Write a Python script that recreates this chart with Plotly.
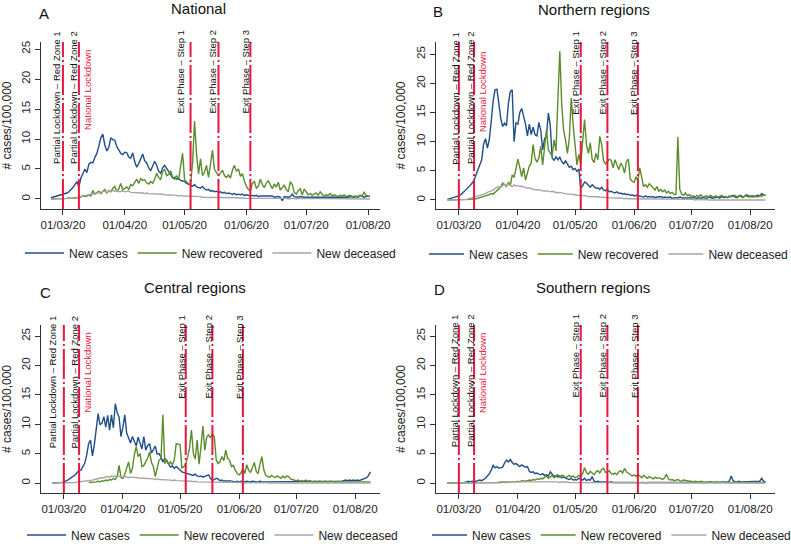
import pandas as pd
import plotly.graph_objects as go

# ---------------------------------------------------------------- data
# Each series is split into monthly chunks; chunk i starts on month_starts[i].
month_starts = ["2020-02-24", "2020-03-01", "2020-04-01", "2020-05-01",
                "2020-06-01", "2020-07-01", "2020-08-01"]

# Panel A - National (24 Feb - 2 Aug 2020)
nat_cases = [
    [0.2, 0.3, 0.3, 0.4, 0.5, 0.6],
    [0.7, 0.8, 1.0, 1.2, 1.5, 1.9, 2.4, 2.9, 2.0, 3.5, 4.2, 5.0, 4.4, 5.8, 6.1, 6.0, 6.9, 7.6, 8.8, 10.2,
     10.8, 9.0, 8.0, 8.6, 10.2, 9.9, 9.8, 8.7, 8.2, 7.6, 7.4],
    [7.8, 7.7, 7.0, 6.8, 7.7, 6.2, 5.3, 5.9, 6.8, 7.5, 6.4, 6.0, 5.2, 4.7, 5.5, 6.3, 5.6, 4.6, 4.3, 5.2,
     5.6, 5.0, 4.6, 4.1, 3.5, 3.6, 3.3, 3.4, 3.1, 3.0],
    [2.9, 2.6, 2.5, 2.3, 2.1, 2.4, 2.0, 1.9, 1.8, 2.1, 1.7, 1.5, 1.6, 1.3, 1.4, 1.2, 1.3, 1.1, 1.2, 1.0,
     1.1, 0.9, 1.0, 0.9, 0.8, 0.9, 0.7, 0.8, 0.7, 0.8, 0.6],
    [0.7, 0.6, 0.5, 0.6, 0.5, 0.6, 0.4, 0.5, 0.5, 0.4, 0.5, 0.4, 0.4, 0.5, 0.3, 0.4, 0.4, 0.3, -0.3, 0.4,
     0.3, 0.3, 0.4, 0.8, 0.4, 0.3, 0.3, 0.4, 0.3, 0.3],
    [0.3, 0.3, 0.2, 0.3, 0.3, 0.2, 0.3, 0.3, 0.2, 0.3, 0.3, 0.3, 0.2, 0.3, 0.3, 0.3, 0.2, 0.3, 0.3, 0.3,
     0.3, 0.3, 0.4, 0.3, 0.3, 0.4, 0.3, 0.6, 0.4, 0.3, 0.4],
    [0.5, 0.4],
]
nat_recovered = [
    [0.0, 0.0, 0.0, 0.1, 0.0, 0.1],
    [0.1, 0.1, 0.1, 0.2, 0.1, 0.2, 0.1, 0.2, 0.2, 0.3, 0.6, 0.4, 0.5, 0.7, 0.5, 1.4, 0.8, 1.1, 1.3, 0.9,
     1.2, 1.6, 1.0, 1.4, 1.2, 1.8, 2.1, 1.3, 1.7, 2.6, 1.5],
    [1.8, 2.0, 1.6, 2.4, 2.2, 2.7, 3.3, 2.6, 3.4, 3.1, 3.2, 2.7, 2.5, 2.9, 2.6, 3.3, 4.3, 3.6, 3.2, 4.6,
     4.9, 3.9, 4.1, 4.7, 3.6, 3.3, 3.9, 3.2, 5.2, 7.6],
    [3.2, 2.8, 2.5, 2.4, 6.0, 13.0, 7.5, 4.2, 6.7, 3.9, 4.5, 5.6, 3.6, 5.8, 8.1, 4.9, 4.4, 3.9, 4.3, 4.8,
     3.9, 3.6, 4.0, 3.5, 4.8, 5.6, 4.6, 5.0, 3.8, 4.2, 3.0],
    [2.1, 1.6, 1.4, 2.6, 2.9, 1.8, 2.1, 3.3, 2.4, 1.9, 2.7, 3.0, 2.2, 1.7, 2.5, 2.0, 2.8, 1.5, 1.9, 2.3,
     1.6, 1.2, 2.9, 2.4, 1.1, 0.8, 1.4, 1.7, 0.7, 1.6],
    [1.2, 0.7, 0.9, 0.6, 0.8, 1.0, 0.6, 1.2, 0.8, 0.5, 0.7, 0.6, 0.9, 0.5, 0.7, 0.6, 0.4, 0.6, 0.5, 0.7,
     0.4, 0.5, 0.6, 0.4, 0.5, 0.5, 0.4, 0.6, 0.5, 1.1, 0.6],
    [0.5, 0.4],
]
nat_deceased = [
    [0.0, 0.0, 0.0, 0.0, 0.0, 0.0],
    [0.0, 0.0, 0.1, 0.1, 0.1, 0.2, 0.2, 0.3, 0.3, 0.4, 0.5, 0.5, 0.6, 0.7, 0.8, 0.8, 0.9, 1.0, 1.1, 1.1,
     1.2, 1.3, 1.2, 1.3, 1.3, 1.4, 1.3, 1.4, 1.2, 1.3, 1.3],
    [1.2, 1.2, 1.3, 1.1, 1.1, 1.0, 1.1, 1.0, 1.0, 1.0, 0.9, 1.0, 0.9, 0.9, 0.8, 0.9, 0.9, 0.8, 0.8, 0.8,
     0.7, 0.7, 0.7, 0.6, 0.7, 0.6, 0.6, 0.5, 0.6, 0.5],
    [0.5, 0.5, 0.4, 0.4, 0.4, 0.5, 0.4, 0.4, 0.4, 0.3, 0.3, 0.3, 0.3, 0.3, 0.3, 0.3, 0.3, 0.2, 0.2, 0.3,
     0.2, 0.2, 0.2, 0.2, 0.2, 0.2, 0.2, 0.2, 0.1, 0.2, 0.1],
    [0.1, 0.2, 0.1, 0.1, 0.1, 0.2, 0.1, 0.1, 0.1, 0.1, 0.1, 0.1, 0.1, 0.1, 0.1, 0.1, 0.1, 0.1, 0.1, 0.1,
     0.1, 0.0, 0.1, 0.1, 0.1, 0.0, 0.1, 0.1, 0.0, 0.1],
    [0.1, 0.0, 0.1, 0.0, 0.1, 0.0, 0.0, 0.1, 0.0, 0.0, 0.1, 0.0, 0.0, 0.0, 0.0, 0.0, 0.0, 0.0, 0.0, 0.0,
     0.0, 0.0, 0.0, 0.0, 0.0, 0.0, 0.0, 0.0, 0.0, 0.0, 0.0],
    [0.0, 0.0],
]

# Panel B - Northern regions (24 Feb - 9 Aug 2020)
north_cases = [
    [0.1, 0.2, 0.2, 0.3, 0.4, 0.5],
    [0.7, 0.9, 1.2, 1.5, 1.8, 2.1, 2.5, 2.9, 3.4, 4.3, 5.2, 6.1, 6.9, 9.6, 10.5, 8.9, 10.4, 13.5, 17.0, 18.9,
     19.0, 16.5, 14.0, 12.6, 13.2, 12.7, 16.5, 18.6, 18.9, 10.0, 13.2],
    [13.0, 15.0, 15.7, 14.3, 13.0, 11.0, 13.0, 11.2, 12.5, 11.2, 11.0, 13.3, 12.0, 8.6, 10.5, 11.0, 14.9, 12.8, 7.2, 6.8,
     7.4, 6.9, 7.3, 6.6, 6.2, 6.7, 6.0, 5.6, 5.8, 5.2],
    [5.4, 4.9, 5.3, 2.0, 2.4, 3.1, 2.9, 2.5, 2.2, 2.6, 2.3, 2.0, 2.1, 1.8, 2.2, 1.7, 1.6, 1.8, 1.4, 1.5,
     1.3, 1.2, 1.4, 1.1, 1.2, 1.0, 1.1, 0.9, 1.0, 0.8, 0.9],
    [0.7, 0.8, 0.6, 0.7, 0.6, 0.5, 0.7, 0.5, 0.6, 0.5, 0.6, 0.4, 0.5, 0.5, 0.6, 0.4, 0.5, 0.4, 0.4, 0.5,
     0.3, 0.4, 0.4, 0.3, 0.5, 0.4, 0.3, 0.4, 0.3, 0.4],
    [0.3, 0.4, 0.3, 0.3, 0.4, 0.3, 0.4, 0.3, 0.3, 0.4, 0.5, 0.3, 0.4, 0.4, 0.5, 0.3, 0.6, 0.4, 0.5, 0.4,
     0.5, 0.6, 0.8, 0.5, 0.4, 0.6, 0.8, 0.5, 0.6, 0.9, 0.7],
    [0.6, 0.7, 0.5, 0.7, 0.8, 0.7, 1.1, 0.9, 0.8],
]
north_recovered = [
    [0.0, 0.0, 0.0, 0.0, 0.0, 0.0],
    [0.0, 0.0, 0.1, 0.0, 0.1, 0.1, 0.1, 0.2, 0.1, 0.2, 0.3, 0.3, 0.4, 0.5, 0.6, 0.8, 0.9, 1.1, 1.0, 1.3,
     1.6, 1.9, 2.2, 2.9, 2.6, 2.3, 3.1, 2.4, 4.3, 3.9, 5.4],
    [7.0, 5.6, 4.0, 5.5, 3.4, 4.6, 5.8, 6.3, 9.5, 7.1, 6.5, 7.2, 9.2, 6.0, 8.6, 12.0, 8.6, 8.0, 7.5, 10.3,
     8.4, 17.2, 25.5, 16.5, 12.0, 10.3, 8.0, 10.5, 17.5, 13.0],
    [9.0, 6.0, 7.8, 6.2, 10.0, 13.8, 9.5, 8.0, 9.8, 7.0, 6.4, 8.0, 6.9, 10.9, 9.5, 6.7, 6.2, 6.5, 7.0, 6.8,
     5.5, 6.9, 6.0, 5.2, 6.3, 5.8, 4.6, 6.6, 7.0, 3.6, 3.2],
    [3.0, 4.0, 3.3, 5.5, 3.8, 2.3, 2.6, 2.2, 2.8, 2.4, 2.0, 1.7, 2.3, 1.5, 1.8, 1.4, 1.7, 1.2, 1.5, 1.1,
     1.3, 0.9, 1.0, 10.8, 1.8, 1.0, 0.8, 1.2, 0.7, 0.9],
    [0.6, 0.7, 0.5, 0.8, 0.6, 0.9, 0.5, 0.6, 0.7, 0.5, 0.8, 0.6, 0.5, 0.7, 0.4, 0.6, 0.8, 0.5, 0.6, 0.4,
     0.7, 0.5, 0.6, 0.8, 0.5, 0.7, 0.6, 0.4, 0.6, 0.7, 0.5],
    [0.6, 0.5, 0.7, 0.6, 0.5, 0.8, 0.6, 0.9, 0.8],
]
north_deceased = [
    [0.0, 0.0, 0.0, 0.0, 0.0, 0.0],
    [0.0, 0.0, 0.1, 0.1, 0.1, 0.2, 0.3, 0.3, 0.4, 0.5, 0.6, 0.7, 0.8, 1.0, 1.1, 1.3, 1.4, 1.6, 1.7, 2.0,
     2.1, 2.3, 2.2, 2.5, 2.7, 2.4, 2.8, 2.5, 2.3, 2.6, 2.4],
    [2.5, 2.3, 2.4, 2.2, 2.2, 2.0, 2.1, 1.9, 1.8, 1.8, 1.7, 1.8, 1.6, 1.6, 1.5, 1.6, 1.5, 1.4, 1.5, 1.4,
     1.3, 1.2, 1.3, 1.2, 1.1, 1.1, 1.0, 1.0, 1.0, 0.9],
    [0.9, 0.8, 0.8, 0.8, 0.7, 0.7, 0.7, 0.6, 0.6, 0.6, 0.5, 0.6, 0.5, 0.5, 0.4, 0.5, 0.4, 0.4, 0.4, 0.3,
     0.3, 0.4, 0.3, 0.3, 0.3, 0.3, 0.2, 0.3, 0.2, 0.2, 0.2],
    [0.2, 0.2, 0.2, 0.1, 0.2, 0.1, 0.2, 0.1, 0.1, 0.2, 0.1, 0.1, 0.1, 0.1, 0.1, 0.1, 0.1, 0.1, 0.1, 0.1,
     0.1, 0.1, 0.1, 0.1, 0.1, 0.1, 0.1, 0.1, 0.1, 0.1],
    [0.1, 0.1, 0.0, 0.1, 0.1, 0.0, 0.1, 0.0, 0.1, 0.0, 0.0, 0.1, 0.0, 0.0, 0.0, 0.1, 0.0, 0.0, 0.0, 0.0,
     0.0, 0.0, 0.0, 0.0, 0.0, 0.0, 0.0, 0.0, 0.0, 0.0, 0.0],
    [0.0, 0.0, 0.0, 0.0, 0.0, 0.0, 0.0, 0.0, 0.0],
]

# Panel C - Central regions (24 Feb - 9 Aug 2020)
central_cases = [
    [0.0, 0.0, 0.0, 0.0, 0.1, 0.1],
    [0.2, 0.3, 0.5, 0.7, 0.9, 1.1, 1.4, 1.8, 2.1, 2.2, 2.7, 3.4, 4.8, 6.7, 7.3, 4.6, 6.5, 8.9, 11.8, 9.9,
     10.2, 11.3, 9.5, 11.5, 9.0, 11.6, 9.4, 13.5, 12.0, 11.2, 7.9],
    [9.5, 11.6, 8.5, 7.5, 6.8, 7.9, 7.2, 6.3, 7.8, 6.9, 5.8, 7.9, 5.6, 6.4, 6.7, 5.1, 5.6, 6.3, 4.9, 5.0,
     4.4, 3.6, 4.2, 3.9, 3.2, 2.7, 2.9, 2.5, 2.8, 2.4],
    [2.2, 1.9, 1.8, 1.7, 1.6, 1.6, 1.4, 1.3, 1.5, 1.2, 1.1, 1.2, 1.0, 1.1, 1.3, 1.4, 0.8, 0.4, 0.6, 0.8,
     0.7, 0.4, 0.5, 0.3, 0.4, 0.3, 0.4, 0.3, 0.3, 0.2, 0.3],
    [0.2, 0.3, 0.2, 0.2, 0.3, 0.2, 0.2, 0.3, 0.2, 0.2, 0.2, 0.3, 0.2, 0.2, 0.3, 0.2, 0.2, 0.2, 0.3, 0.2,
     0.2, 0.3, 0.2, 0.2, 0.2, 0.3, 0.2, 0.2, 0.3, 0.2],
    [0.2, 0.3, 0.2, 0.2, 0.3, 0.2, 0.3, 0.2, 0.2, 0.3, 0.2, 0.3, 0.2, 0.3, 0.2, 0.2, 0.3, 0.2, 0.3, 0.3,
     0.2, 0.3, 0.2, 0.3, 0.3, 0.4, 0.5, 0.4, 0.5, 0.4, 0.5],
    [0.4, 0.5, 0.4, 0.5, 0.6, 0.8, 0.9, 1.3, 1.9],
]
central_recovered = [
    [None, None, None, None, None, None],
    [None, None, None, None, None, None, None, None, None, None, None, None, None,
     0.1, 0.1, 0.2, 0.1, 0.2, 0.3, 0.2, 0.4, 0.3, 0.5, 0.4, 0.6, 0.5, 0.8, 0.6, 1.2, 3.0, 0.9],
    [0.8, 1.5, 2.4, 3.6, 1.6, 2.5, 4.8, 6.2, 4.5, 5.0, 2.8, 3.0, 3.6, 4.2, 5.3, 3.5, 2.8, 1.1, 2.5, 3.9,
     4.1, 11.6, 3.3, 3.8, 3.2, 3.6, 3.1, 4.0, 6.7, 6.6],
    [6.5, 2.5, 2.8, 3.3, 4.4, 6.0, 9.0, 5.0, 4.1, 7.3, 3.2, 6.2, 9.7, 5.6, 7.8, 8.2, 7.7, 8.4, 7.9, 3.9,
     3.3, 3.6, 4.5, 3.8, 5.6, 4.2, 3.9, 2.8, 3.0, 2.2, 1.6],
    [1.4, 1.7, 2.5, 1.6, 3.1, 2.2, 1.8, 2.8, 3.5, 2.0, 1.6, 3.3, 4.5, 2.2, 1.3, 1.1, 1.0, 1.3, 1.1, 0.9,
     1.2, 1.0, 0.8, 1.2, 0.9, 1.2, 1.1, 0.7, 0.6, 0.5],
    [0.4, 0.5, 0.3, 0.4, 0.3, 0.5, 0.3, 0.4, 0.3, 0.2, 0.3, 0.2, 0.3, 0.2, 0.2, 0.3, 0.2, 0.2, 0.3, 0.2,
     0.2, 0.2, 0.3, 0.2, 0.2, 0.3, 0.2, 0.2, 0.2, 0.2, 0.3],
    [0.2, 0.2, 0.3, 0.2, 0.2, 0.2, 0.3, 0.2, 0.2],
]
central_deceased = [
    [0.0, 0.0, 0.0, 0.0, 0.0, 0.0],
    [0.0, 0.0, 0.0, 0.1, 0.1, 0.1, 0.1, 0.2, 0.2, 0.2, 0.3, 0.3, 0.4, 0.4, 0.5, 0.5, 0.6, 0.7, 0.7, 0.8,
     0.9, 0.9, 1.0, 1.1, 1.0, 1.2, 1.1, 1.2, 1.0, 1.2, 1.1],
    [1.0, 1.1, 1.0, 0.9, 1.0, 1.0, 0.9, 1.0, 0.9, 0.8, 0.9, 0.8, 0.8, 0.7, 0.8, 0.7, 0.7, 0.6, 0.7, 0.6,
     0.6, 0.5, 0.6, 0.5, 0.5, 0.5, 0.4, 0.5, 0.4, 0.4],
    [0.4, 0.3, 0.4, 0.3, 0.3, 0.3, 0.3, 0.2, 0.3, 0.2, 0.2, 0.2, 0.2, 0.2, 0.2, 0.1, 0.2, 0.1, 0.1, 0.2,
     0.1, 0.1, 0.1, 0.1, 0.1, 0.1, 0.1, 0.1, 0.1, 0.1, 0.1],
    [0.1, 0.1, 0.1, 0.0, 0.1, 0.1, 0.0, 0.1, 0.1, 0.0, 0.1, 0.0, 0.1, 0.0, 0.1, 0.0, 0.0, 0.1, 0.0, 0.0,
     0.1, 0.0, 0.0, 0.0, 0.1, 0.0, 0.0, 0.0, 0.0, 0.0],
    [0.0, 0.0, 0.0, 0.0, 0.0, 0.0, 0.0, 0.0, 0.0, 0.0, 0.0, 0.0, 0.0, 0.0, 0.0, 0.0, 0.0, 0.0, 0.0, 0.0,
     0.0, 0.0, 0.0, 0.0, 0.0, 0.0, 0.0, 0.0, 0.0, 0.0, 0.0],
    [0.0, 0.0, 0.0, 0.0, 0.0, 0.0, 0.0, 0.0, 0.0],
]

# Panel D - Southern regions (24 Feb - 9 Aug 2020)
south_cases = [
    [0.0, 0.0, 0.0, 0.0, 0.0, 0.0],
    [0.0, 0.1, 0.1, 0.1, 0.2, 0.3, 0.2, 0.3, 0.2, 0.3, 0.4, 0.5, 0.4, 0.6, 0.8, 1.2, 1.6, 2.2, 3.0, 2.6,
     2.8, 2.5, 2.6, 2.7, 3.4, 3.9, 3.6, 4.0, 3.5, 3.2, 3.3],
    [3.0, 2.8, 3.1, 2.9, 2.7, 2.8, 2.0, 1.8, 1.9, 1.6, 1.7, 1.5, 1.4, 1.6, 1.3, 1.4, 1.2, 1.9, 1.4, 1.1,
     1.3, 1.0, 1.2, 0.9, 1.0, 0.8, 0.7, 0.6, 0.8, 0.5],
    [0.6, 0.5, 0.8, 0.7, 0.5, 0.8, 0.4, 0.6, 0.5, 1.1, 0.3, 0.2, 0.3, 0.2, 0.2, 0.3, 0.2, 0.2, 0.1, 0.2,
     0.1, 0.1, 0.2, 0.1, 0.1, 0.1, 0.1, 0.1, 0.1, 0.1, 0.1],
    [0.1, 0.1, 0.0, 0.1, 0.1, 0.1, 0.0, 0.1, 0.1, 0.1, 0.1, 0.0, 0.1, 0.1, 0.1, 0.1, 0.0, 0.1, 0.1, 0.1,
     0.1, 0.1, 0.0, 0.1, 0.1, 0.1, 0.1, 0.1, 0.1, 0.1],
    [0.1, 0.1, 0.1, 0.1, 0.1, 0.1, 0.1, 0.1, 0.1, 0.1, 0.2, 0.1, 0.1, 0.1, 0.1, 0.1, 0.2, 0.2, 0.2, 0.2,
     0.3, 1.2, 0.4, 0.2, 0.2, 0.3, 0.2, 0.2, 0.3, 0.2, 0.2],
    [0.2, 0.2, 0.3, 0.2, 0.2, 0.3, 0.8, 0.3, 0.2],
]
south_recovered = [
    [0.0, 0.0, 0.0, 0.0, 0.0, 0.0],
    [0.0, 0.0, 0.0, 0.0, 0.0, 0.0, 0.0, 0.0, 0.0, 0.0, 0.0, 0.0, 0.0, 0.0, 0.1, 0.0, 0.1, 0.1, 0.0, 0.1,
     0.1, 0.1, 0.1, 0.2, 0.1, 0.1, 0.2, 0.2, 0.1, 0.2, 0.2],
    [0.3, 0.2, 0.4, 0.3, 0.3, 0.4, 0.5, 0.4, 0.6, 0.5, 0.7, 0.6, 0.8, 0.7, 0.9, 1.2, 0.8, 1.0, 1.3, 0.9,
     1.1, 1.4, 1.0, 1.3, 1.2, 0.9, 1.1, 1.3, 1.0, 1.2],
    [0.9, 1.0, 1.3, 1.1, 1.6, 2.6, 1.8, 1.5, 2.0, 1.6, 1.4, 1.9, 2.1, 1.7, 2.3, 2.5, 1.8, 1.9, 2.1, 1.6,
     1.5, 1.7, 1.4, 1.9, 2.1, 1.7, 2.5, 1.9, 1.6, 1.4, 1.2],
    [1.4, 1.1, 1.5, 1.2, 0.9, 1.3, 1.0, 0.8, 1.1, 0.9, 0.7, 1.0, 0.8, 0.9, 0.7, 0.6, 0.9, 1.5, 0.7, 0.5,
     0.6, 0.4, 0.5, 0.6, 0.4, 0.3, 0.5, 0.4, 0.3, 0.3],
    [0.3, 0.2, 0.3, 0.2, 0.2, 0.3, 0.2, 0.1, 0.2, 0.1, 0.2, 0.1, 0.1, 0.2, 0.1, 0.1, 0.1, 0.2, 0.1, 0.1,
     0.1, 0.1, 0.1, 0.1, 0.2, 0.1, 0.1, 0.1, 0.1, 0.1, 0.1],
    [0.1, 0.1, 0.1, 0.1, 0.1, 0.1, 0.1, 0.1, 0.1],
]
south_deceased = [
    [0.0, 0.0, 0.0, 0.0, 0.0, 0.0],
    [0.0, 0.0, 0.0, 0.0, 0.0, 0.0, 0.0, 0.0, 0.0, 0.0, 0.0, 0.0, 0.0, 0.1, 0.1, 0.1, 0.1, 0.1, 0.1, 0.1,
     0.1, 0.2, 0.2, 0.2, 0.2, 0.2, 0.3, 0.2, 0.3, 0.3, 0.3],
    [0.3, 0.2, 0.3, 0.3, 0.3, 0.2, 0.3, 0.3, 0.2, 0.3, 0.2, 0.3, 0.2, 0.2, 0.3, 0.2, 0.2, 0.2, 0.2, 0.2,
     0.2, 0.2, 0.1, 0.2, 0.2, 0.1, 0.2, 0.1, 0.1, 0.1],
    [0.1, 0.1, 0.1, 0.1, 0.1, 0.1, 0.1, 0.1, 0.1, 0.1, 0.1, 0.1, 0.1, 0.1, 0.0, 0.1, 0.1, 0.1, 0.0, 0.1,
     0.1, 0.0, 0.1, 0.1, 0.0, 0.1, 0.0, 0.1, 0.0, 0.1, 0.0],
    [0.0, 0.1, 0.0, 0.0, 0.1, 0.0, 0.0, 0.0, 0.1, 0.0, 0.0, 0.0, 0.0, 0.0, 0.0, 0.0, 0.0, 0.0, 0.0, 0.0,
     0.0, 0.0, 0.0, 0.0, 0.0, 0.0, 0.0, 0.0, 0.0, 0.0],
    [0.0, 0.0, 0.0, 0.0, 0.0, 0.0, 0.0, 0.0, 0.0, 0.0, 0.0, 0.0, 0.0, 0.0, 0.0, 0.0, 0.0, 0.0, 0.0, 0.0,
     0.0, 0.0, 0.0, 0.0, 0.0, 0.0, 0.0, 0.0, 0.0, 0.0, 0.0],
    [0.0, 0.0, 0.0, 0.0, 0.0, 0.0, 0.0, 0.0, 0.0],
]

series_names = ["New cases", "New recovered", "New deceased"]
panel_titles = ["National", "Northern regions", "Central regions", "Southern regions"]
panel_letters = ["A", "B", "C", "D"]

event_dates = ["2020-03-01", "2020-03-09", "2020-05-04", "2020-05-18", "2020-06-03"]
event_labels = ["Partial Lockdown – Red Zone 1", "Partial Lockdown – Red Zone 2",
                "Exit Phase – Step 1", "Exit Phase – Step 2", "Exit Phase – Step 3"]
lockdown_date = "2020-03-09"
lockdown_label = "National Lockdown"

tick_dates = ["2020-03-01", "2020-04-01", "2020-05-01", "2020-06-01", "2020-07-01", "2020-08-01"]
tick_labels = ["01/03/20", "01/04/20", "01/05/20", "01/06/20", "01/07/20", "01/08/20"]
y_ticks = [0, 5, 10, 15, 20, 25]

# ---------------------------------------------------------------- styling
W, H = 791, 544
FONT = "Liberation Sans, Arial, Helvetica, sans-serif"
COLORS = ["#1f4f8a", "#5b8c2c", "#a6a6a6"]
RED = "#e8173f"
INK = "#222222"


def fx(p):
    return p / W


def fy(p):
    return 1 - p / H


def expand(chunks):
    xs, ys = [], []
    for start, chunk in zip(month_starts, chunks):
        xs.extend(pd.date_range(start, periods=len(chunk), freq="D"))
        ys.extend(chunk)
    return xs, ys


panels = [
    dict(series=(nat_cases, nat_recovered, nat_deceased),
         xpx=(41, 380), ypx=(42, 209), xr=("2020-02-19", "2020-08-07"), yr=(-1.67, 26.17),
         title=(198, 8.5), letter=(44, 13), legend=(20, 253), itemw=39,
         text_top=28.5, nat_top=48, shifts=[-6, -5, -10, -5, -4]),
    dict(series=(north_cases, north_recovered, north_deceased),
         xpx=(436, 775), ypx=(42, 209), xr=("2020-02-18", "2020-08-14"), yr=(-1.55, 27.1),
         title=(594, 9), letter=(438, 11), legend=(424, 254), itemw=35,
         text_top=29.5, nat_top=50, shifts=[-3, -3, -5, -4, -4]),
    dict(series=(central_cases, central_recovered, central_deceased),
         xpx=(41, 380), ypx=(325, 493), xr=("2020-02-18", "2020-08-14"), yr=(-1.7, 26.9),
         title=(195, 287), letter=(45, 292), legend=(22, 535), itemw=39,
         text_top=313.5, nat_top=330.5, shifts=[-11.5, -5.5, -5, -4, -4]),
    dict(series=(south_cases, south_recovered, south_deceased),
         xpx=(436, 775), ypx=(325, 493), xr=("2020-02-18", "2020-08-14"), yr=(-1.7, 26.9),
         title=(593, 287), letter=(439, 289), legend=(427, 535), itemw=35,
         text_top=312.5, nat_top=331, shifts=[-4.7, -4, -5.3, -5, -4]),
]

fig = go.Figure()
shapes, annotations = [], []
layout = dict(
    width=W, height=H,
    margin=dict(l=0, r=0, t=0, b=0, autoexpand=False),
    paper_bgcolor="white", plot_bgcolor="white",
    font=dict(family=FONT, color=INK, size=12),
)

for i, p in enumerate(panels):
    n = "" if i == 0 else str(i + 1)
    xa, ya = "x" + n, "y" + n
    leg = "legend" + n

    for k, chunks in enumerate(p["series"]):
        xs, ys = expand(chunks)
        fig.add_trace(go.Scatter(
            x=xs, y=ys, mode="lines", name=series_names[k],
            line=dict(color=COLORS[k], width=1.4),
            xaxis=xa, yaxis=ya, legend=leg, hoverinfo="skip",
        ))

    layout["xaxis" + n] = dict(
        domain=[fx(p["xpx"][0]), fx(p["xpx"][1])], anchor=ya,
        type="date", range=list(p["xr"]),
        tickmode="array", tickvals=tick_dates, ticktext=tick_labels,
        showline=True, linecolor="#333333", linewidth=1,
        ticks="outside", ticklen=5, tickcolor="#333333",
        tickfont=dict(size=11.5, color=INK), showgrid=False, zeroline=False,
        automargin=False,
    )
    layout["yaxis" + n] = dict(
        domain=[fy(p["ypx"][1]), fy(p["ypx"][0])], anchor=xa,
        range=list(p["yr"]), tickmode="array", tickvals=y_ticks,
        tickangle=-90, showline=True, linecolor="#333333", linewidth=1,
        ticks="outside", ticklen=5, tickcolor="#333333",
        tickfont=dict(size=11.5, color=INK), showgrid=False, zeroline=False,
        title=dict(text="# cases/100,000", font=dict(size=12, color=INK), standoff=7),
        automargin=False,
    )
    layout[leg] = dict(
        orientation="h", x=fx(p["legend"][0]), y=fy(p["legend"][1]),
        xanchor="left", yanchor="middle", font=dict(size=12, color=INK),
        bgcolor="rgba(0,0,0,0)", itemwidth=p["itemw"], traceorder="normal",
        itemclick=False, itemdoubleclick=False,
    )

    for j, d in enumerate(event_dates):
        shapes.append(dict(
            type="line", xref=xa, yref=ya + " domain", x0=d, x1=d, y0=0, y1=1,
            line=dict(color=RED, width=2, dash="30px,3px,2px,3px"),
        ))
        annotations.append(dict(
            text=event_labels[j], xref=xa, x=d, xanchor="center", xshift=p["shifts"][j],
            yref="paper", y=fy(p["text_top"]), yanchor="top", textangle=-90,
            showarrow=False, font=dict(size=9.5, color="#111111"),
        ))
    annotations.append(dict(
        text=lockdown_label, xref=xa, x=lockdown_date, xanchor="center", xshift=8,
        yref="paper", y=fy(p["nat_top"]), yanchor="top", textangle=-90,
        showarrow=False, font=dict(size=9.5, color=RED),
    ))
    annotations.append(dict(
        text=panel_titles[i], xref="paper", yref="paper",
        x=fx(p["title"][0]), y=fy(p["title"][1]), xanchor="center", yanchor="middle",
        showarrow=False, font=dict(size=15, color="#111111"),
    ))
    annotations.append(dict(
        text=panel_letters[i], xref="paper", yref="paper",
        x=fx(p["letter"][0]), y=fy(p["letter"][1]), xanchor="center", yanchor="middle",
        showarrow=False, font=dict(size=15, color="#111111"),
    ))

layout["shapes"] = shapes
layout["annotations"] = annotations
fig.update_layout(**layout)
# remove the browser's default 8px body margin so the figure fills the window exactly
fig.write_html("out.html", config={"displayModeBar": False},
               post_script="document.body.style.margin='0px';")
